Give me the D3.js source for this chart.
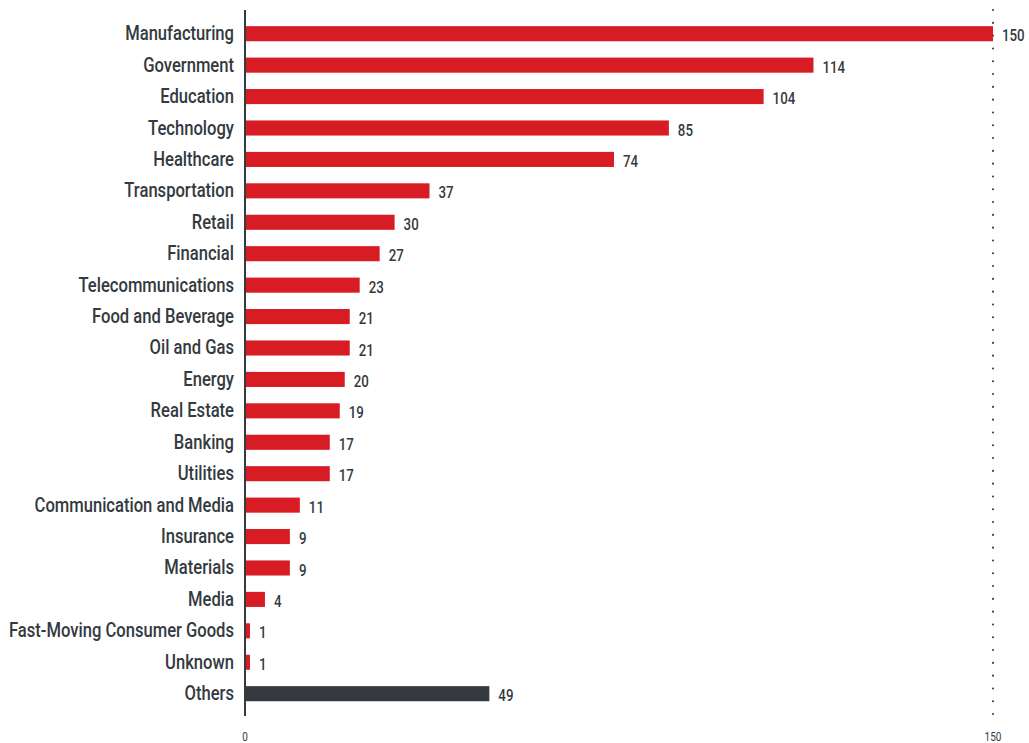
<!DOCTYPE html>
<html>
<head>
<meta charset="utf-8">
<script src="https://cdn.jsdelivr.net/npm/d3@7"></script>
<style>
  body { margin: 0; background: #fff; }
  text { font-family: "Roboto", "Liberation Sans", sans-serif; fill: #333a40; }
</style>
</head>
<body>
<script>
// values
const categories = ['Manufacturing', 'Government', 'Education', 'Technology', 'Healthcare',
  'Transportation', 'Retail', 'Financial', 'Telecommunications', 'Food and Beverage',
  'Oil and Gas', 'Energy', 'Real Estate', 'Banking', 'Utilities',
  'Communication and Media', 'Insurance', 'Materials', 'Media',
  'Fast-Moving Consumer Goods', 'Unknown', 'Others']
const counts = [150, 114, 104, 85, 74, 37, 30, 27, 23, 21, 21, 20, 19, 17, 17, 11, 9, 9, 4, 1, 1, 49]
const tickValues = [0, 150]

const data = categories.map((c, i) => ({ name: c, value: counts[i] }))

const svg = d3.select('body').append('svg').attr('width', 1029).attr('height', 743)

const x = d3.scaleLinear().domain([0, 150]).range([245, 993])
const y = d3.scaleBand()
  .domain(categories)
  .range([18, 709.4])
  .paddingInner(0.52)
  .paddingOuter(0.26)

// condensed look: squeeze the text horizontally
const squeeze = 0.83

// dotted reference line at the max
svg.append('line')
  .attr('x1', x(150)).attr('x2', x(150))
  .attr('y1', 10).attr('y2', 716)
  .attr('stroke', '#333a40')
  .attr('stroke-width', 2)
  .attr('stroke-linecap', 'round')
  .attr('stroke-dasharray', '0.1 12.7')

svg.selectAll('rect.bar')
  .data(data)
  .enter().append('rect')
    .attr('class', 'bar')
    .attr('x', x(0))
    .attr('y', (d) => y(d.name))
    .attr('width', (d) => x(d.value) - x(0))
    .attr('height', y.bandwidth())
    .attr('fill', (d) => d.name === 'Others' ? '#343a40' : '#d71c24')

// value labels
svg.selectAll('text.val')
  .data(data)
  .enter().append('text')
    .attr('class', 'val')
    .attr('transform', (d) => `translate(${x(d.value) + 9},${y(d.name) + y.bandwidth() / 2 + 2}) scale(${squeeze},1)`)
    .attr('dy', '0.35em')
    .attr('font-size', 16)
    .attr('font-weight', 500)
    .text((d) => d.value)

// category labels
svg.selectAll('text.cat')
  .data(data)
  .enter().append('text')
    .attr('class', 'cat')
    .attr('transform', (d) => `translate(234,${y(d.name) + y.bandwidth() / 2 - 0.5}) scale(${squeeze},1)`)
    .attr('dy', '0.35em')
    .attr('text-anchor', 'end')
    .attr('font-size', 20)
    .attr('font-weight', 500)
    .text((d) => d.name)

// vertical axis line
svg.append('line')
  .attr('x1', x(0)).attr('x2', x(0))
  .attr('y1', 10).attr('y2', 716)
  .attr('stroke', '#333a40')
  .attr('stroke-width', 2)

// bottom tick labels
svg.selectAll('text.tick')
  .data(tickValues)
  .enter().append('text')
    .attr('class', 'tick')
    .attr('transform', (d) => `translate(${x(d)},737) scale(${squeeze},1)`)
    .attr('dy', '0.35em')
    .attr('text-anchor', 'middle')
    .attr('font-size', 12)
    .text((d) => d)
</script>
</body>
</html>
